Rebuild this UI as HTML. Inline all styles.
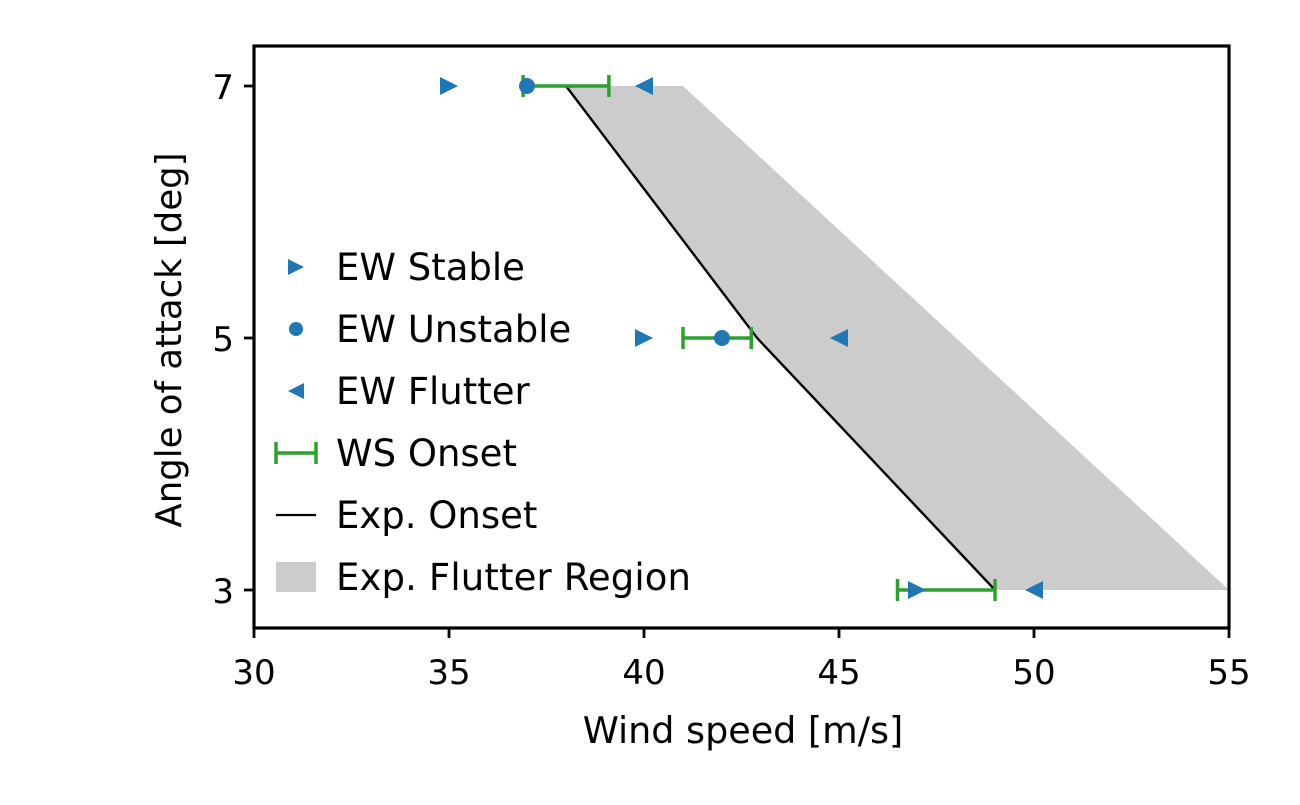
<!DOCTYPE html>
<html><head><meta charset="utf-8"><style>
body{margin:0;background:#fff}
svg text{font-family:"DejaVu Sans","Liberation Sans",sans-serif;fill:#000}
</style></head><body>
<svg id="c" width="1300" height="800" xmlns="http://www.w3.org/2000/svg">
<g id="plot"></g>
</svg>
<script>
const xTicks=[30,35,40,45,50,55];
const yTicks=[3,5,7];
const onsetX=[38,42.9,49];
const onsetY=[7,5,3];
const regionTopX=[38,41];
const regionRightX=[55];
const stableX=[35,40,47], stableY=[7,5,3];
const unstableX=[37,42], unstableY=[7,5];
const flutterX=[40,45,50], flutterY=[7,5,3];
const wsLo=[36.9,41,46.5], wsHi=[39.1,42.75,49], wsY=[7,5,3];

const L=254,R=1229,T=46,B=628;
const X=v=>L+(v-30)*(R-L)/25;
const Y=v=>86+(7-v)*126;
const NS='http://www.w3.org/2000/svg';
const g=document.getElementById('plot');
function mk(t,a,p){const e=document.createElementNS(NS,t);for(const k in a)e.setAttribute(k,a[k]);(p||g).appendChild(e);return e;}
let pts=[[X(regionTopX[0]),Y(7)],[X(regionTopX[1]),Y(7)],[X(regionRightX[0]),Y(3)]];
for(let i=onsetX.length-1;i>=0;i--)pts.push([X(onsetX[i]),Y(onsetY[i])]);
let e=mk('polygon',{points:pts.map(p=>p.join(',')).join(' '),fill:'#cccccc'});


e=mk('polyline',{points:onsetX.map((v,i)=>X(v)+','+Y(onsetY[i])).join(' '),fill:'none',stroke:'#000','stroke-width':2.4});


function tri(x,y,dir,name){const s=9;const p=dir>0?[[x-s,y-s],[x+s,y],[x-s,y+s]]:[[x+s,y-s],[x-s,y],[x+s,y+s]];
const t=mk('polygon',{points:p.map(q=>q.join(',')).join(' '),fill:'#1f77b4'});

}
function eb(x1,x2,y,name){const gg=mk('g',{stroke:'#2ca02c','stroke-width':3.5});


mk('line',{x1:x1,x2:x2,y1:y,y2:y},gg);mk('line',{x1:x1,x2:x1,y1:y-11,y2:y+11},gg);mk('line',{x1:x2,x2:x2,y1:y-11,y2:y+11},gg);}
wsY.forEach((y,i)=>eb(X(wsLo[i]),X(wsHi[i]),Y(y),'ws-onset-errorbar'));
stableX.forEach((v,i)=>tri(X(v),Y(stableY[i]),1,'ew-stable-marker'));
flutterX.forEach((v,i)=>tri(X(v),Y(flutterY[i]),-1,'ew-flutter-marker'));
unstableX.forEach((v,i)=>{const c=mk('circle',{cx:X(v),cy:Y(unstableY[i]),r:8,fill:'#1f77b4'});

});
e=mk('rect',{x:L,y:T,width:R-L,height:B-T,fill:'none',stroke:'#000','stroke-width':3.2});


xTicks.forEach(v=>{mk('line',{x1:X(v),x2:X(v),y1:B,y2:B+10,stroke:'#000','stroke-width':2.8});
const t=mk('text',{x:X(v),y:B+56,'text-anchor':'middle','font-size':34});t.textContent=v;

});
yTicks.forEach(v=>{mk('line',{x1:L,x2:L-10,y1:Y(v),y2:Y(v),stroke:'#000','stroke-width':2.8});
const t=mk('text',{x:L-20,y:Y(v)+13,'text-anchor':'end','font-size':34});t.textContent=v;

});
e=mk('text',{x:743,y:743,'text-anchor':'middle','font-size':36.5});e.textContent='Wind speed [m/s]';


e=mk('text',{x:0,y:0,'text-anchor':'middle','font-size':35.5,transform:'translate(181,340) rotate(-90)'});e.textContent='Angle of attack [deg]';


const labels=['EW Stable','EW Unstable','EW Flutter','WS Onset','Exp. Onset','Exp. Flutter Region'];
labels.forEach((s,i)=>{const y=267+i*62;
const lg=mk('g',{});


if(i==0)mk('polygon',{points:`288,${y-8} 304,${y} 288,${y+8}`,fill:'#1f77b4'},lg);
if(i==1)mk('circle',{cx:296,cy:y,r:7,fill:'#1f77b4'},lg);
if(i==2)mk('polygon',{points:`304,${y-8} 288,${y} 304,${y+8}`,fill:'#1f77b4'},lg);
if(i==3){const q=mk('g',{stroke:'#2ca02c','stroke-width':3.5},lg);mk('line',{x1:276,x2:316,y1:y,y2:y},q);mk('line',{x1:276,x2:276,y1:y-11,y2:y+11},q);mk('line',{x1:316,x2:316,y1:y-11,y2:y+11},q);}
if(i==4)mk('line',{x1:276,x2:316,y1:y,y2:y,stroke:'#000','stroke-width':2.2},lg);
if(i==5)mk('rect',{x:276,y:y-15,width:40,height:30,fill:'#cccccc'},lg);
const t=mk('text',{x:336,y:y+13,'font-size':37,textLength:s.length>12?355:null},lg);t.textContent=s;if(!t.getAttribute('textLength')||t.getAttribute('textLength')==='null')t.removeAttribute('textLength');});
</script>
</body></html>
